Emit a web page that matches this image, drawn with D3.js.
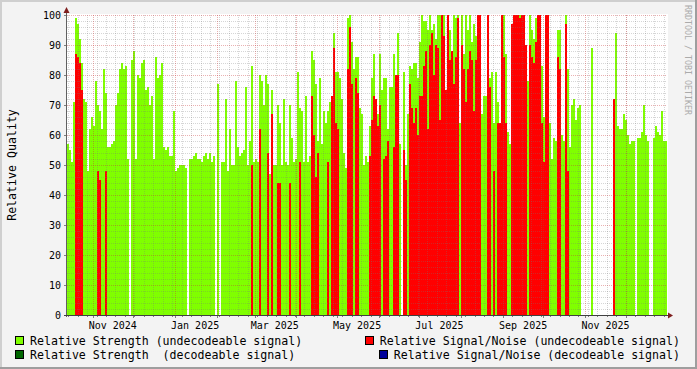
<!DOCTYPE html>
<html><head><meta charset="utf-8">
<script src="https://cdn.jsdelivr.net/npm/d3@7"></script>
<style>
html,body{margin:0;padding:0;background:#F3F3F3;}
svg{display:block;}
text{font-family:"DejaVu Sans Mono",monospace;}
</style></head><body>
<svg id="chart" width="697" height="369"></svg>
<script>
// ---- time range of the graph ----
const startDate = new Date(2024, 9, 13, 2, 0);
const endDate   = new Date(2025, 11, 31, 14, 0);

// ---- Relative Strength (undecodeable signal), one value per sample, null = no data ----
const strengthUndecodeable = [
 57,55,51,71,99,97,92,84,72,71,48,62,66,63,78,70,68,62,82,74,
 56,56,57,58,70,74,82,84,82,83,52,null,85,88,52,80,79,84,85,75,
 76,70,73,52,86,79,80,84,56,55,56,53,53,68,48,49,50,50,50,49,
 null,52,52,53,54,52,52,51,53,54,52,54,51,53,null,77,null,51,51,72,
 48,62,50,50,78,56,53,54,55,76,50,58,83,51,52,51,80,78,70,80,
 77,47,75,50,50,70,64,50,72,51,50,70,59,51,52,81,69,68,51,73,
 51,53,88,85,77,58,79,57,68,64,68,71,67,94,81,81,79,72,54,49,
 99,100,91,82,86,86,69,67,50,53,51,63,79,87,70,67,87,75,79,79,
 62,76,76,87,78,94,57,null,81,50,67,83,82,84,84,79,91,100,98,98,
 95,100,95,97,92,100,100,100,100,75,100,95,77,100,99,100,64,100,87,100,
 95,100,91,97,93,100,100,67,73,73,88,79,81,64,81,71,61,100,100,87,
 61,57,69,87,100,100,100,100,100,89,78,100,95,92,99,88,100,83,66,100,
 100,64,52,59,58,95,95,60,58,100,82,56,70,72,65,69,70,null,null,null,
 null,null,89,null,null,null,null,null,null,null,null,null,null,61,94,63,62,62,67,65,
 60,57,58,58,null,59,59,61,70,60,58,null,null,59,63,61,60,68,58,58
];
// ---- Relative Signal/Noise (undecodeable signal), 0 = none ----
const snrUndecodeable = [
 0,0,0,0,87,86,84,75,0,0,0,0,0,0,0,48,45,0,0,48,
 0,0,0,0,0,0,0,0,0,0,0,0,0,0,0,0,0,0,0,0,
 0,0,0,0,0,0,0,0,0,0,0,0,0,0,0,0,0,0,0,0,
 0,0,0,0,0,0,0,0,0,0,0,0,0,0,0,0,0,0,0,0,
 0,0,0,0,0,0,0,0,0,0,0,0,50,0,0,0,62,0,0,0,
 54,0,67,0,0,44,44,0,0,0,0,44,0,0,0,0,51,0,0,0,
 0,0,73,60,46,54,0,0,0,0,51,0,73,89,64,62,0,0,0,0,
 82,96,77,0,79,74,0,0,0,0,0,53,65,73,72,63,70,0,52,53,
 58,0,0,56,80,80,0,0,55,45,0,77,69,64,69,60,73,73,83,88,
 62,90,94,80,90,89,65,100,93,75,100,85,88,77,86,99,0,90,82,71,
 82,88,85,68,85,100,100,0,0,0,100,76,0,48,0,64,64,100,86,64,
 0,0,97,100,100,100,99,100,100,90,0,90,86,84,91,100,100,64,51,100,
 100,0,0,0,0,86,82,0,0,97,48,0,0,0,0,0,0,0,0,0,
 0,0,0,0,0,0,0,0,0,0,0,0,0,72,0,0,0,0,0,0,
 0,0,0,0,0,0,0,0,0,0,0,0,0,0,0,0,0,0,0,0
];
// ---- axis / legend text ----
const yTicks = [0,10,20,30,40,50,60,70,80,90,100];
const yLabel = "Relative Quality";
const legendItems = [
  {label:"Relative Strength (undecodeable signal)", color:"#80FF00", col:0, row:0},
  {label:"Relative Signal/Noise (undecodeable signal)", color:"#FF0000", col:1, row:0},
  {label:"Relative Strength  (decodeable signal)", color:"#006600", col:0, row:1},
  {label:"Relative Signal/Noise (decodeable signal)", color:"#000099", col:1, row:1}
];
const watermark = "RRDTOOL / TOBI OETIKER";

const W = 697, H = 369;
const svg = d3.select("#chart");
const X0 = 67, X1 = 667, Y0 = 315, Y1 = 15;

const x = d3.scaleTime().domain([startDate, endDate]).range([X0, X1]);
const y = d3.scaleLinear().domain([0, 100]).range([Y0, Y1]);

const n = strengthUndecodeable.length;
const stepMs = (endDate - startDate) / n;
const sampleDate = i => new Date(startDate.getTime() + i * stepMs);

// background & border
svg.append("rect").attr("width", W).attr("height", H).attr("fill", "#F3F3F3");
svg.append("rect").attr("x",0).attr("y",0).attr("width",W).attr("height",2).attr("fill","#CFCFCF");
svg.append("rect").attr("x",0).attr("y",0).attr("width",2).attr("height",H).attr("fill","#CFCFCF");
svg.append("rect").attr("x",0).attr("y",H-2).attr("width",W).attr("height",2).attr("fill","#9E9E9E");
svg.append("rect").attr("x",W-2).attr("y",0).attr("width",2).attr("height",H).attr("fill","#9E9E9E");

// canvas
svg.append("rect").attr("x", X0).attr("y", Y1 - 1).attr("width", X1 - X0 + 1).attr("height", Y0 - Y1 + 1).attr("fill", "#FFFFFF");

const plot = svg.append("g").attr("shape-rendering", "crispEdges");

function drawArea(values, color) {
  const data = values.map((v, i) => ({v, i})).filter(d => d.v != null && d.v > 0);
  plot.append("g").selectAll("rect").data(data).join("rect")
    .attr("x", d => Math.round(x(sampleDate(d.i))))
    .attr("width", d => Math.round(x(sampleDate(d.i + 1))) - Math.round(x(sampleDate(d.i))))
    .attr("y", d => Math.round(y(d.v)))
    .attr("height", d => Y0 - Math.round(y(d.v)))
    .attr("fill", color);
}
drawArea(strengthUndecodeable, "#80FF00");
drawArea(snrUndecodeable, "#FF0000");

// grid (drawn over the data, as rrdtool does)
const grid = svg.append("g").attr("shape-rendering", "crispEdges");
const minorY = d3.range(0, 101, 2).filter(v => v % 10 !== 0);
grid.selectAll(".hmin").data(minorY).join("line")
  .attr("x1", X0).attr("x2", X1).attr("y1", d => y(d) + 0.5).attr("y2", d => y(d) + 0.5)
  .attr("stroke", "rgba(120,120,120,0.3)").attr("stroke-dasharray", "1,1");
const weeks = d3.timeMonday.range(startDate, endDate);
grid.selectAll(".vmin").data(weeks).join("line")
  .attr("x1", d => Math.round(x(d)) + 0.5).attr("x2", d => Math.round(x(d)) + 0.5)
  .attr("y1", Y1).attr("y2", Y0)
  .attr("stroke", "rgba(120,120,120,0.3)").attr("stroke-dasharray", "1,1");
grid.selectAll(".hmaj").data(yTicks).join("line")
  .attr("x1", X0).attr("x2", X1).attr("y1", d => y(d) + 0.5).attr("y2", d => y(d) + 0.5)
  .attr("stroke", "rgba(200,50,50,0.38)").attr("stroke-dasharray", "1,1");
const months = d3.timeMonth.range(startDate, endDate);
grid.selectAll(".vmaj").data(months).join("line")
  .attr("x1", d => Math.round(x(d)) + 0.5).attr("x2", d => Math.round(x(d)) + 0.5)
  .attr("y1", Y1).attr("y2", Y0)
  .attr("stroke", "rgba(200,50,50,0.38)").attr("stroke-dasharray", "1,1");

// axis ticks
grid.selectAll(".ytk").data(yTicks).join("line")
  .attr("x1", X0 - 3).attr("x2", X0).attr("y1", d => y(d) + 0.5).attr("y2", d => y(d) + 0.5)
  .attr("stroke", "#808080");
grid.selectAll(".xtk").data(weeks).join("line")
  .attr("x1", d => Math.round(x(d)) + 0.5).attr("x2", d => Math.round(x(d)) + 0.5)
  .attr("y1", Y0).attr("y2", Y0 + 2).attr("stroke", "#808080");
grid.selectAll(".xtkm").data(months).join("line")
  .attr("x1", d => Math.round(x(d)) + 0.5).attr("x2", d => Math.round(x(d)) + 0.5)
  .attr("y1", Y0).attr("y2", Y0 + 3).attr("stroke", "#808080");

// axes lines
svg.append("line").attr("x1", X0 - 0.5).attr("x2", X0 - 0.5).attr("y1", Y0 + 2).attr("y2", 10)
  .attr("stroke", "#606060").attr("shape-rendering", "crispEdges");
svg.append("line").attr("x1", X0 - 3).attr("x2", X1 + 4).attr("y1", Y0 + 0.5).attr("y2", Y0 + 0.5)
  .attr("stroke", "#404040").attr("shape-rendering", "crispEdges");
// arrows
svg.append("path").attr("d", `M${X0-3.5},13 L${X0+2.5},13 L${X0-0.5},7 Z`).attr("fill", "#7F1F1F");
svg.append("path").attr("d", `M${X1+1},${Y0-2.5} L${X1+1},${Y0+3.5} L${X1+6},${Y0+0.5} Z`).attr("fill", "#7F1F1F");

// y tick labels
svg.append("g").selectAll("text").data(yTicks).join("text")
  .attr("x", 61).attr("y", d => y(d)).attr("dy", "0.35em")
  .attr("text-anchor", "end").attr("font-size", "10px").attr("fill", "#000")
  .text(d => d);

// x labels: every 2 months, centred half a month after the month start
const labelMonths = d3.timeMonth.every(2).range(startDate, endDate);
const fmt = d3.timeFormat("%b %Y");
svg.append("g").selectAll("text").data(labelMonths).join("text")
  .attr("x", d => x(d3.timeDay.offset(d, 15)))
  .attr("y", 328.5).attr("text-anchor", "middle").attr("font-size", "10px").attr("fill", "#000")
  .text(d => fmt(d));

// y axis title
svg.append("text").attr("transform", `translate(15.5,${(Y0 + Y1) / 2}) rotate(-90)`)
  .attr("text-anchor", "middle").attr("font-size", "11.6px").attr("fill", "#000").text(yLabel);

// watermark
svg.append("text").attr("transform", "translate(684.5,5) rotate(90)")
  .attr("font-size", "8.3px").attr("fill", "#ABABAB").text(watermark);

// legend
const legend = svg.append("g");
legendItems.forEach(it => {
  const baseY = it.row === 0 ? 344.5 : 358.5;
  const t = legend.append("text").attr("y", baseY).attr("font-size", "11.6px").attr("fill", "#000")
    .attr("xml:space", "preserve").style("white-space", "pre").text(it.label);
  let tx;
  if (it.col === 0) { tx = 30; t.attr("x", tx); }
  else { const len = t.node().getComputedTextLength(); tx = 680 - len; t.attr("x", tx); }
  legend.append("rect").attr("x", tx - 14.5).attr("y", baseY - 8).attr("width", 8).attr("height", 8)
    .attr("fill", it.color).attr("stroke", "#000").attr("stroke-width", 1).attr("shape-rendering", "crispEdges");
});
</script>
</body></html>
